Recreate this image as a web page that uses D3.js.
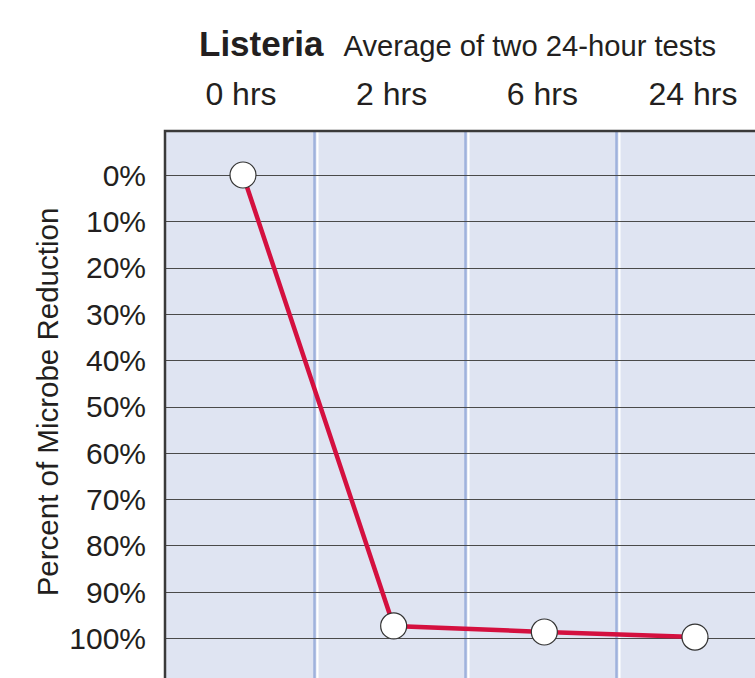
<!DOCTYPE html>
<html>
<head>
<meta charset="utf-8">
<script src="https://cdn.jsdelivr.net/npm/d3@7"></script>
<style>
  body { margin: 0; background: #fff; }
  text { font-family: "Liberation Sans", Arial, sans-serif; fill: #231f20; }
</style>
</head>
<body>
<div id="chart"></div>
<script>
// DATA
const hours = ["0 hrs", "2 hrs", "6 hrs", "24 hrs"];
const reduction = [0, 97.4, 98.7, 99.8];
const yTicks = [0, 10, 20, 30, 40, 50, 60, 70, 80, 90, 100];

const W = 755, H = 678;
const plot = { left: 165, top: 131, right: 770, bottom: 690 };

const svg = d3.select("#chart")
	.append("svg")
		.attr("width", W)
		.attr("height", H);

// SCALES
const xBand = d3.scaleBand()
	.domain(hours)
	.range([plot.left, plot.left + 4 * 151]);

const xPoint = d3.scalePoint()
	.domain(hours)
	.range([243, 695]);

const yScale = d3.scaleLinear()
	.domain([0, 100])
	.range([175, 638]);

// background
svg.append("rect")
	.attr("x", plot.left)
	.attr("y", plot.top)
	.attr("width", plot.right - plot.left)
	.attr("height", plot.bottom - plot.top)
	.attr("fill", "#dfe4f2");

// column separators (blue line + white highlight)
hours.slice(1).forEach(h => {
	const x = xBand(h);
	svg.append("line")
		.attr("x1", x - 1.5).attr("x2", x - 1.5)
		.attr("y1", plot.top).attr("y2", plot.bottom)
		.attr("stroke", "#9fb2dc").attr("stroke-width", 2.5);
	svg.append("line")
		.attr("x1", x + 1.5).attr("x2", x + 1.5)
		.attr("y1", plot.top).attr("y2", plot.bottom)
		.attr("stroke", "#ffffff").attr("stroke-width", 2);
});

// gridlines
svg.append("g")
	.selectAll("line")
	.data(yTicks)
	.join("line")
		.attr("x1", plot.left).attr("x2", plot.right)
		.attr("y1", d => Math.round(yScale(d)) + 0.5)
		.attr("y2", d => Math.round(yScale(d)) + 0.5)
		.attr("stroke", "#4a4a4a")
		.attr("stroke-width", 1);

// frame (top + left)
svg.append("path")
	.attr("d", `M${plot.left},${plot.bottom}V${plot.top}H${plot.right}`)
	.attr("fill", "none")
	.attr("stroke", "#3a3a3a")
	.attr("stroke-width", 2.5);

// y tick labels
svg.append("g")
	.selectAll("text")
	.data(yTicks)
	.join("text")
		.attr("x", 146)
		.attr("y", d => yScale(d))
		.attr("dy", "0.36em")
		.attr("text-anchor", "end")
		.style("font-size", "30px")
		.text(d => d + "%");

// x labels (top)
svg.append("g")
	.selectAll("text")
	.data(hours)
	.join("text")
		.attr("x", d => xPoint(d) - 2)
		.attr("y", 105)
		.attr("text-anchor", "middle")
		.style("font-size", "32px")
		.text(d => d);

// title
const title = svg.append("text")
	.attr("x", 199)
	.attr("y", 56);
title.append("tspan")
	.style("font-size", "35px")
	.style("font-weight", "bold")
	.text("Listeria");
title.append("tspan")
	.attr("dx", 20)
	.style("font-size", "29.2px")
	.text("Average of two 24-hour tests");

// y axis title
svg.append("text")
	.attr("transform", "rotate(-90)")
	.attr("x", -402)
	.attr("y", 58)
	.attr("text-anchor", "middle")
	.style("font-size", "29.5px")
	.text("Percent of Microbe Reduction");

// line
const line = d3.line()
	.x((d, i) => xPoint(hours[i]))
	.y(d => yScale(d));

svg.append("path")
	.datum(reduction)
	.attr("d", line)
	.attr("fill", "none")
	.attr("stroke", "#d4103f")
	.attr("stroke-width", 4.5);

// markers
svg.append("g")
	.selectAll("circle")
	.data(reduction)
	.join("circle")
		.attr("cx", (d, i) => xPoint(hours[i]))
		.attr("cy", d => yScale(d))
		.attr("r", 13)
		.attr("fill", "#fff")
		.attr("stroke", "#333")
		.attr("stroke-width", 1.2);
</script>
</body>
</html>
